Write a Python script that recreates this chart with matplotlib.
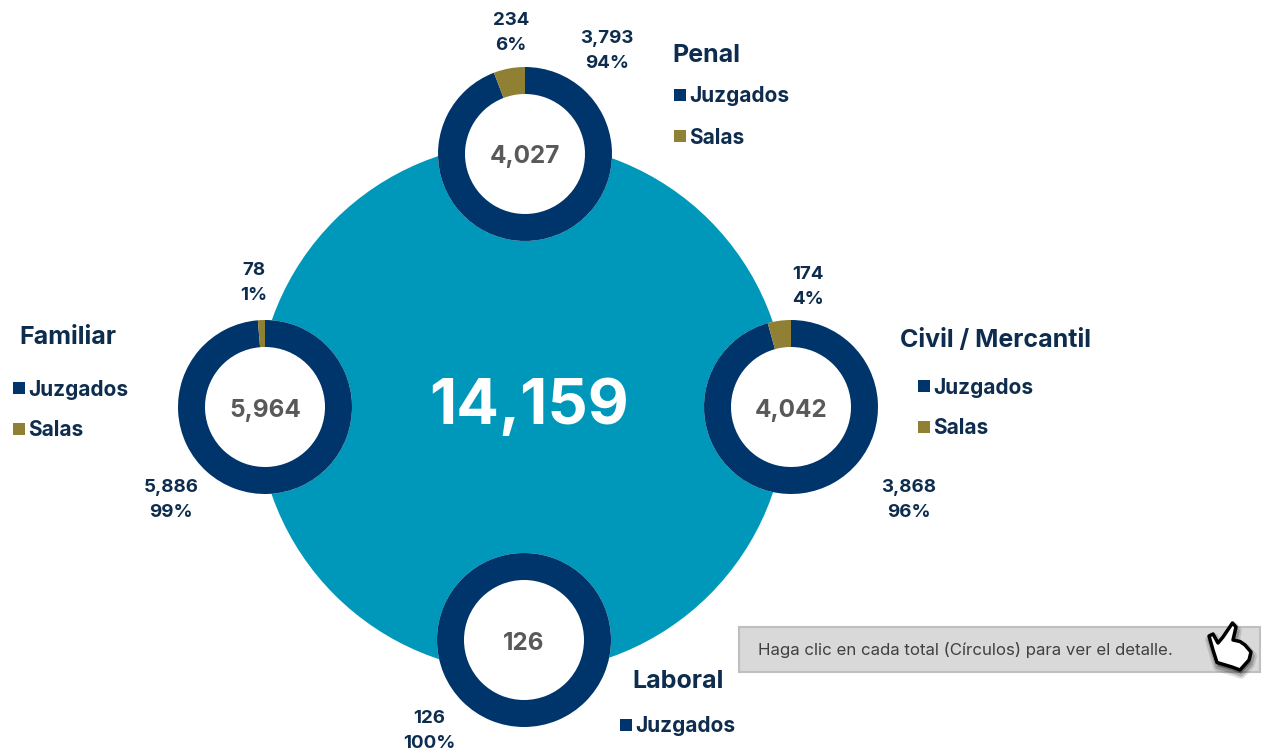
import matplotlib
matplotlib.use('Agg')
import matplotlib.pyplot as plt
from matplotlib.patches import Circle, Rectangle, Polygon

plt.rcParams['font.family'] = ['Inter', 'DejaVu Sans']

W, H = 1266, 755

total = '14,159'
names = ['Penal', 'Civil / Mercantil', 'Familiar', 'Laboral']
totals = ['4,027', '4,042', '5,964', '126']
juzgados = [3793, 3868, 5886, 126]
salas = [234, 174, 78, 0]
juzgados_pct = ['94%', '96%', '99%', '100%']
salas_pct = ['6%', '4%', '1%', '']
note = 'Haga clic en cada total (Círculos) para ver el detalle.'

navy = '#00356B'
gold = '#8F8033'
teal = '#0098BA'
dark = '#0E2C4E'
grey = '#595959'

# centre of each donut, in image pixels
centers = [(525, 154), (791, 407), (265, 407), (524, 640)]
jz_lab = [(607, 51), (909, 500), (171, 500), (429, 731)]
sl_lab = [(511, 33), (808, 287), (254, 283), None]
title_pos = [(672, 55), (900, 341), (19, 338), (632, 681)]
legend_pos = [(674, 95), (918, 386), (13, 388), (620, 725)]


def py(y):
    return H - y


fig = plt.figure(figsize=(W / 100, H / 100), dpi=100)
ax = fig.add_axes([0, 0, 1, 1])

ax.add_patch(Circle((522, py(407.5)), 265, fc=teal, ec='none', zorder=1))
ax.text(529, py(407), total, color='white', fontsize=45.5, fontweight='bold',
        ha='center', va='center', zorder=5)

for i, name in enumerate(names):
    cx, cy = centers[i]
    vals = [juzgados[i], salas[i]] if salas[i] else [juzgados[i]]
    ax.add_patch(Circle((cx, py(cy)), 87, fc='white', ec='none', zorder=1.5))
    wedges, _ = ax.pie(vals, colors=[navy, gold], center=(cx, py(cy)), radius=87,
                       startangle=90, counterclock=False,
                       wedgeprops=dict(width=27, edgecolor='none'))
    for w in wedges:
        w.set_zorder(2)
    ax.text(cx, py(cy + 3), totals[i], color=grey, fontsize=17.5, fontweight='bold',
            ha='center', va='center', zorder=5)

    x, y = jz_lab[i]
    ax.text(x, py(y), f'{juzgados[i]:,}\n{juzgados_pct[i]}', color=dark, fontsize=13.5,
            fontweight='bold', ha='center', va='center', linespacing=1.65)
    if sl_lab[i]:
        x, y = sl_lab[i]
        ax.text(x, py(y), f'{salas[i]:,}\n{salas_pct[i]}', color=dark, fontsize=13.5,
                fontweight='bold', ha='center', va='center', linespacing=1.65)

    x, y = title_pos[i]
    ax.text(x, py(y), name, color=dark, fontsize=18, fontweight='bold', ha='left', va='center')

    x, y = legend_pos[i]
    ax.add_patch(Rectangle((x, py(y + 6)), 12, 12, fc=navy, ec='none'))
    ax.text(x + 15, py(y + 1.5), 'Juzgados', color=dark, fontsize=15, fontweight='bold',
            ha='left', va='center')
    if salas[i]:
        ax.add_patch(Rectangle((x, py(y + 47)), 12, 12, fc=gold, ec='none'))
        ax.text(x + 15, py(y + 42.5), 'Salas', color=dark, fontsize=15, fontweight='bold',
                ha='left', va='center')

# note box
ax.add_patch(Rectangle((739, py(672)), 521, 45, fc='#D9D9D9', ec='#BFBFBF', lw=1.5, zorder=3))
ax.text(758, py(649.5), note, color='#404040', fontsize=12.15, ha='left', va='center', zorder=4)

# hand cursor
hand = [(1232.5, 623), (1236, 627), (1233, 640), (1240, 641.5), (1245, 645), (1251, 652),
        (1249, 660), (1240, 670), (1232, 667), (1217, 662.5), (1213, 650), (1209, 636),
        (1213, 634), (1218, 643), (1223, 637)]
for off, a, lw in [(4, 0.12, 7), (4, 0.2, 4)]:
    ax.add_patch(Polygon([(x + 1, py(y + off)) for x, y in hand], closed=True, fc='black',
                         ec='black', lw=lw, alpha=a, zorder=5, joinstyle='round'))
ax.add_patch(Polygon([(x, py(y)) for x, y in hand], closed=True, fc='white', ec='black',
                     lw=2.5, zorder=6, joinstyle='round'))

ax.set_xlim(0, W)
ax.set_ylim(0, H)
ax.set_aspect('auto')
ax.axis('off')

fig.savefig('out.png', dpi=100, facecolor='white')
